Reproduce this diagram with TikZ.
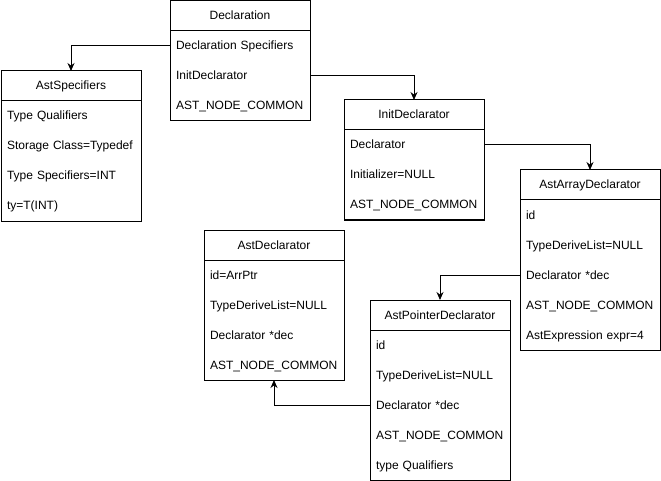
\documentclass[tikz,border=0pt]{standalone}
\usepackage{fontspec}
\setmainfont{Liberation Sans}
\usepackage{tikz}
\usetikzlibrary{positioning}
\usetikzlibrary{arrows.meta}
\tikzset{
    hdr/.style={draw, line width=1pt, minimum width=140pt, minimum height=30pt, inner sep=0pt, outer sep=0pt, text height=10pt, text depth=2pt},
    fld/.style={minimum height=30pt, text width=128pt, inner xsep=6pt, inner ysep=0pt, outer sep=0pt, align=left, text height=10pt, text depth=2pt},
    frame/.style={draw, line width=1pt},
    link/.style={->, line width=1pt}}

\begin{document}
\begin{tikzpicture}[x=1pt, y=-1pt, font=\fontsize{12}{14}\selectfont, >={Stealth[length=8pt, width=7pt]}]

        \useasboundingbox (0,0) rectangle (661,481);

                    \node[hdr] (decl) at (240,16) {Declaration};
                    \node[fld, below=0pt of decl] (decl1) {Declaration Specifiers};
                    \node[fld, below=0pt of decl1] (decl2) {InitDeclarator};
                    \node[fld, below=0pt of decl2] (decl3) {AST\_NODE\_COMMON};
                    \draw[frame] (decl.north west) rectangle (decl3.south east);

                    \node[hdr] (spec) at (71,86) {AstSpecifiers};
                    \node[fld, below=0pt of spec] (spec1) {Type Qualifiers};
                    \node[fld, below=0pt of spec1] (spec2) {Storage Class=Typedef};
                    \node[fld, below=0pt of spec2] (spec3) {Type Specifiers=INT};
                    \node[fld, below=0pt of spec3] (spec4) {ty=T(INT)};
                    \draw[frame] (spec.north west) rectangle (spec4.south east);

                    \node[hdr] (init) at (414,115) {InitDeclarator};
                    \node[fld, below=0pt of init] (init1) {Declarator};
                    \node[fld, below=0pt of init1] (init2) {Initializer=NULL};
                    \node[fld, below=0pt of init2] (init3) {AST\_NODE\_COMMON};
                    \draw[frame] (init.north west) rectangle (init3.south east);

                    \node[hdr] (arr) at (590,185) {AstArrayDeclarator};
                    \node[fld, below=0pt of arr] (arr1) {id};
                    \node[fld, below=0pt of arr1] (arr2) {TypeDeriveList=NULL};
                    \node[fld, below=0pt of arr2] (arr3) {Declarator *dec};
                    \node[fld, below=0pt of arr3] (arr4) {AST\_NODE\_COMMON};
                    \node[fld, below=0pt of arr4] (arr5) {AstExpression expr=4};
                    \draw[frame] (arr.north west) rectangle (arr5.south east);

                    \node[hdr] (adecl) at (274,245) {AstDeclarator};
                    \node[fld, below=0pt of adecl] (adecl1) {id=ArrPtr};
                    \node[fld, below=0pt of adecl1] (adecl2) {TypeDeriveList=NULL};
                    \node[fld, below=0pt of adecl2] (adecl3) {Declarator *dec};
                    \node[fld, below=0pt of adecl3] (adecl4) {AST\_NODE\_COMMON};
                    \draw[frame] (adecl.north west) rectangle (adecl4.south east);

                    \node[hdr] (ptr) at (440,315) {AstPointerDeclarator};
                    \node[fld, below=0pt of ptr] (ptr1) {id};
                    \node[fld, below=0pt of ptr1] (ptr2) {TypeDeriveList=NULL};
                    \node[fld, below=0pt of ptr2] (ptr3) {Declarator *dec};
                    \node[fld, below=0pt of ptr3] (ptr4) {AST\_NODE\_COMMON};
                    \node[fld, below=0pt of ptr4] (ptr5) {type Qualifiers};
                    \draw[frame] (ptr.north west) rectangle (ptr5.south east);

                    \draw[link] (decl1.west) -| (spec.north);
                    \draw[link] (decl2.east) -| (init.north);
                    \draw[link] (init1.east) -| (arr.north);
                    \draw[link] (arr3.west) -| (ptr.north);
                    \draw[link] (ptr3.west) -| (adecl4.south);

                \end{tikzpicture}
\end{document}
